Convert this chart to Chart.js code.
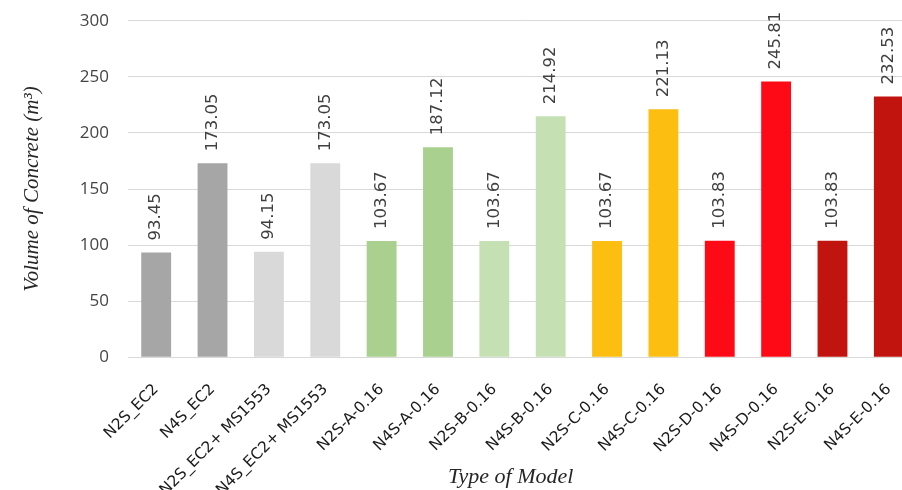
<!DOCTYPE html>
<html>
<head>
<meta charset="utf-8">
<script src="https://cdn.jsdelivr.net/npm/chart.js@4"></script>
<style>
  html, body { margin: 0; padding: 0; background: #fff; overflow: hidden; width: 902px; height: 490px; }
  canvas { display: block; }
</style>
</head>
<body>
<canvas id="chart" width="925" height="490"></canvas>
<script>
// Model names along the x axis
const models = [
  'N2S_EC2', 'N4S_EC2', 'N2S_EC2+ MS1553', 'N4S_EC2+ MS1553',
  'N2S-A-0.16', 'N4S-A-0.16', 'N2S-B-0.16', 'N4S-B-0.16',
  'N2S-C-0.16', 'N4S-C-0.16', 'N2S-D-0.16', 'N4S-D-0.16',
  'N2S-E-0.16', 'N4S-E-0.16'
];

// Volume of concrete per model (m³)
const concreteVolume = [
  93.45, 173.05, 94.15, 173.05,
  103.67, 187.12, 103.67, 214.92,
  103.67, 221.13, 103.83, 245.81,
  103.83, 232.53
];

// One colour per bar, paired by model family
const barColors = [
  '#a6a6a6', '#a6a6a6', '#d9d9d9', '#d9d9d9',
  '#a9d08e', '#a9d08e', '#c5e0b3', '#c5e0b3',
  '#fdbe12', '#fdbe12', '#fe0a17', '#fe0a17',
  '#c1140f', '#c1140f'
];

// Y axis tick values
const yTicks = [0, 50, 100, 150, 200, 250, 300];

// Writes each bar's value vertically just above it
const barValueLabels = {
  id: 'barValueLabels',
  afterDatasetsDraw(chart) {
    const { ctx } = chart;
    const meta = chart.getDatasetMeta(0);
    ctx.save();
    ctx.font = '16.5px "DejaVu Sans"';
    ctx.fillStyle = '#404040';
    ctx.textAlign = 'left';
    ctx.textBaseline = 'middle';
    meta.data.forEach((bar, i) => {
      ctx.save();
      ctx.translate(bar.x, bar.y - 12);
      ctx.rotate(-Math.PI / 2);
      ctx.fillText(concreteVolume[i].toFixed(2), 0, 0);
      ctx.restore();
    });
    ctx.restore();
  }
};

// Caption under the category labels
const xCaption = {
  id: 'xCaption',
  afterDraw(chart) {
    const { ctx, chartArea } = chart;
    ctx.save();
    ctx.font = 'italic 22px "Liberation Serif"';
    ctx.fillStyle = '#262626';
    ctx.textAlign = 'center';
    ctx.textBaseline = 'middle';
    ctx.fillText('Type of Model', chartArea.left + chartArea.width * 0.485, 477);
    ctx.restore();
  }
};

new Chart(document.getElementById('chart'), {
  type: 'bar',
  data: {
    labels: models,
    datasets: [{
      data: concreteVolume,
      backgroundColor: barColors,
      borderWidth: 0,
      categoryPercentage: 1,
      barPercentage: 0.53
    }]
  },
  plugins: [barValueLabels, xCaption],
  options: {
    responsive: false,
    animation: false,
    devicePixelRatio: 1,
    layout: { padding: { top: 20.7, right: 0, bottom: 0, left: 0 } },
    plugins: {
      legend: { display: false },
      tooltip: { enabled: false }
    },
    scales: {
      x: {
        afterFit(scale) { scale.height = 132.7; },
        grid: { display: false, drawTicks: false },
        border: { display: true, color: '#d9d9d9', width: 1 },
        ticks: {
          autoSkip: false,
          minRotation: 45,
          maxRotation: 45,
          padding: 23,
          color: '#1a1a1a',
          font: { family: 'DejaVu Sans', size: 15.5 }
        }
      },
      y: {
        min: 0,
        max: 300,
        afterFit(scale) {
          scale.width = 128;
          scale.paddingTop = 0;
          scale.paddingBottom = 0;
        },
        afterBuildTicks(scale) { scale.ticks = yTicks.map(v => ({ value: v })); },
        grid: { color: '#d9d9d9', lineWidth: 1, drawTicks: false },
        border: { display: false },
        ticks: {
          padding: 19,
          color: '#454545',
          font: { family: 'Open Sans', size: 17 }
        },
        title: {
          display: true,
          text: 'Volume of Concrete (m³)',
          color: '#262626',
          font: { family: 'Liberation Serif', style: 'italic', size: 21 },
          padding: { top: 20, bottom: 0 }
        }
      }
    }
  }
});
</script>
</body>
</html>
